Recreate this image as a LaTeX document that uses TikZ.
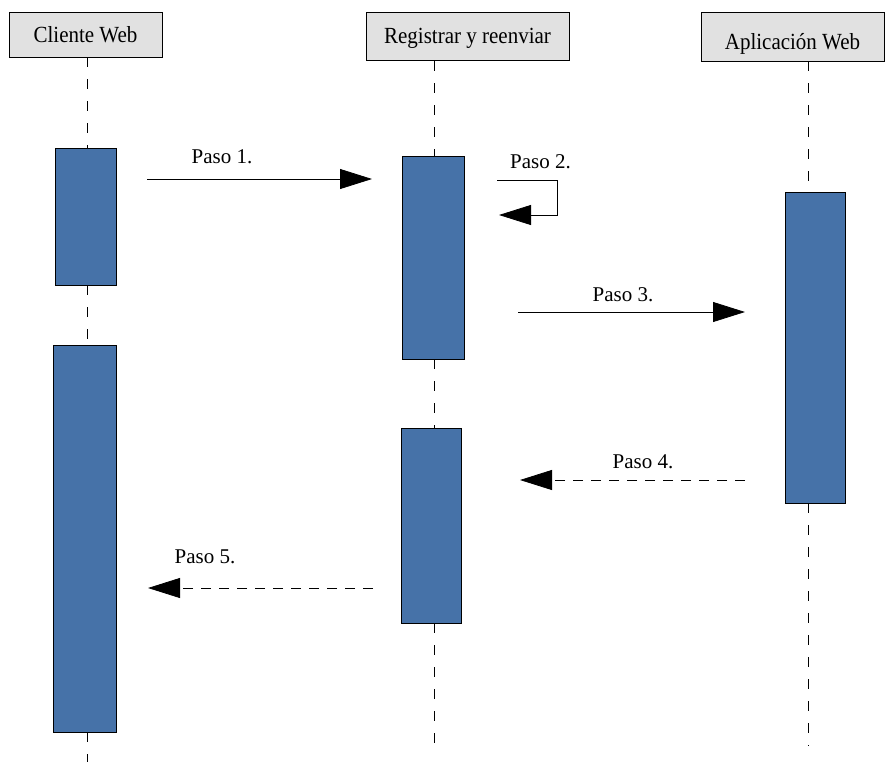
\documentclass[tikz,border=0pt]{standalone}
\usepackage{fontspec}
\setmainfont{Liberation Serif}
\usetikzlibrary{arrows.meta}
\definecolor{actblue}{RGB}{70,114,168}
\definecolor{headgray}{RGB}{225,225,225}
\begin{document}
\begin{tikzpicture}[x=1pt,y=-1pt,
  headbox/.style={draw=black, fill=headgray, font=\fontsize{21}{24}\selectfont, inner sep=0pt, line width=0.7pt, text depth=0pt},
  actbox/.style={draw=black, fill=actblue, inner sep=0pt, line width=0.6pt},
  lifeline/.style={draw=black, line width=0.6pt, dash pattern=on 10pt off 12pt},
  msg/.style={draw=black, line width=0.8pt, -{Triangle[length=32pt,width=20pt]}},
  reply/.style={msg, dash pattern=on 10pt off 8pt},
  lbl/.style={font=\fontsize{21}{24}\selectfont, inner sep=0pt}]
\useasboundingbox (0,0) rectangle (893,763);
% headers
\node[headbox, minimum width=153pt, minimum height=45pt, text height=15.2pt] (h1) at (85.5,34.7) {\scalebox{1}[1.1]{Cliente Web}};
\node[headbox, minimum width=203pt, minimum height=48.5pt, text height=13pt] (h2) at (467.5,36.5) {\scalebox{1}[1.1]{Registrar y reenviar}};
\node[headbox, minimum width=183pt, minimum height=49pt, text height=25pt] (h3) at (792.5,36.5) {\scalebox{1}[1.1]{Aplicación Web}};
% activations
\node[actbox, minimum width=61pt, minimum height=137pt] (a1) at (85.5,216.5) {};
\node[actbox, minimum width=63pt, minimum height=387pt] (a2) at (84.5,538.5) {};
\node[actbox, minimum width=62pt, minimum height=203pt] (b1) at (433,257.5) {};
\node[actbox, minimum width=60pt, minimum height=195pt] (b2) at (431,525.5) {};
\node[actbox, minimum width=60pt, minimum height=311pt] (c1) at (815,347.5) {};
% lifeline end points
\coordinate (l1a) at (87,57);
\coordinate (l1b) at (87,148);
\coordinate (l1c) at (87,285);
\coordinate (l1d) at (87,345);
\coordinate (l1e) at (87,732);
\coordinate (l1f) at (87,762);
\coordinate (l2a) at (434,61);
\coordinate (l2b) at (434,156);
\coordinate (l2c) at (434,359);
\coordinate (l2d) at (434,428);
\coordinate (l2e) at (434,623);
\coordinate (l2f) at (434,746);
\coordinate (l3a) at (808,61);
\coordinate (l3b) at (808,192);
\coordinate (l3c) at (808,503);
\coordinate (l3d) at (808,746);
\draw[lifeline] (l1a) -- (l1b);
\draw[lifeline] (l1c) -- (l1d);
\draw[lifeline] (l1e) -- (l1f);
\draw[lifeline] (l2a) -- (l2b);
\draw[lifeline] (l2c) -- (l2d);
\draw[lifeline] (l2e) -- (l2f);
\draw[lifeline] (l3a) -- (l3b);
\draw[lifeline] (l3c) -- (l3d);
% messages
\coordinate (m1s) at (147,179);
\coordinate (m1e) at (372,179);
\draw[msg] (m1s) -- (m1e);
\node[lbl] (t1) at (222,157) {Paso 1.};
\coordinate (m2s) at (497,180);
\coordinate (m2e) at (499,215);
\draw[msg] (m2s) -- (557,180) -- (557,215) -- (m2e);
\node[lbl] (t2) at (540.5,162) {Paso 2.};
\coordinate (m3s) at (518,312);
\coordinate (m3e) at (745,312);
\draw[msg] (m3s) -- (m3e);
\node[lbl] (t3) at (623,295) {Paso 3.};
\coordinate (m4s) at (745,480);
\coordinate (m4e) at (520,480);
\draw[reply] (m4s) -- (m4e);
\node[lbl] (t4) at (643,462) {Paso 4.};
\coordinate (m5s) at (373,588);
\coordinate (m5e) at (148,588);
\draw[reply] (m5s) -- (m5e);
\node[lbl] (t5) at (205,557) {Paso 5.};
\end{tikzpicture}
\end{document}
